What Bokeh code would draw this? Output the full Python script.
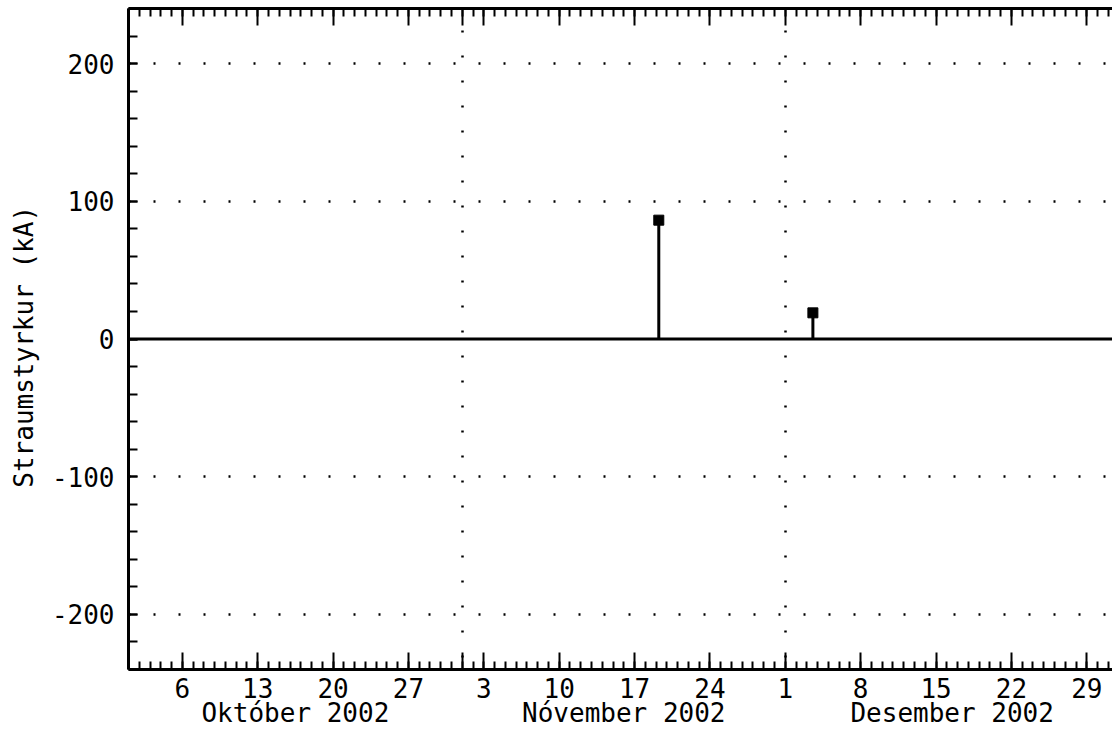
import pandas as pd
from bokeh.plotting import figure
from bokeh.models import LinearAxis, FixedTicker, Range1d, Span, Grid, ColumnDataSource
from bokeh.embed import file_html
from bokeh.resources import INLINE

# ---- data ----
strike_times = ["2002-11-19 06:00", "2002-12-03 13:30"]
peak_current_kA = [86.3, 19.0]

x_start = "2002-10-01 00:00"
x_end = "2002-12-31 09:20"
month_starts = ["2002-11-01", "2002-12-01"]
month_mids = ["2002-10-16 12:00", "2002-11-16 00:00", "2002-12-16 12:00"]
month_names = ["Október 2002", "Nóvember 2002", "Desember 2002"]
y_major = [-200, -100, 0, 100, 200]
y_minor = list(range(-240, 241, 20))
y_grid = [-200, -100, 100, 200]

FONT = "DejaVu Sans Mono"
FS = "26px"


def ms(s):
    return pd.Timestamp(s).value / 1e6


days = pd.date_range("2002-10-01", "2002-12-31", freq="D")
day_ms = [ms(d) for d in days]
sunday_ms = [ms(d) for d in days if d.dayofweek == 6]
month_ms = [ms(m) for m in month_starts]
major_x = sorted(set(sunday_ms + month_ms))

overrides = {m: "" for m in month_ms}
for d in days:
    if d.dayofweek == 6:
        overrides[ms(d)] = str(d.day)

src = ColumnDataSource(dict(t=[pd.Timestamp(s) for s in strike_times],
                            v=peak_current_kA,
                            z=[0] * len(strike_times)))

p = figure(width=1112, height=730,
           x_range=Range1d(pd.Timestamp(x_start), pd.Timestamp(x_end)),
           y_range=Range1d(-240, 240),
           x_axis_location=None, y_axis_location=None,
           output_backend="svg", toolbar_location=None,
           min_border_left=128, min_border_right=0,
           min_border_top=8, min_border_bottom=0)
p.outline_line_color = None
p.center = [r for r in p.center if not isinstance(r, Grid)]
p.background_fill_color = "white"
p.border_fill_color = "white"

# grids
p.add_layout(Grid(dimension=1, ticker=FixedTicker(ticks=y_grid),
                  grid_line_color="black", grid_line_width=2.5,
                  grid_line_dash="2 23", grid_line_dash_offset=-25))
p.add_layout(Grid(dimension=0, ticker=FixedTicker(ticks=month_ms),
                  grid_line_color="black", grid_line_width=2.5,
                  grid_line_dash="2 23", grid_line_dash_offset=-12))


def style(ax):
    ax.axis_line_width = 3
    ax.axis_line_color = "black"
    ax.major_tick_line_width = 2
    ax.minor_tick_line_width = 2
    ax.major_tick_line_color = "black"
    ax.minor_tick_line_color = "black"
    ax.major_tick_out = 0
    ax.minor_tick_out = 0
    ax.major_label_text_font = FONT
    ax.major_label_text_font_size = FS
    ax.major_label_text_color = "black"


# left axis
ly = LinearAxis(ticker=FixedTicker(ticks=y_major, minor_ticks=y_minor),
                axis_label="Straumstyrkur  (kA)",
                major_label_overrides={v: str(v) for v in y_major})
style(ly)
ly.major_tick_in = 9
ly.minor_tick_in = 9
ly.major_label_standoff = 14
ly.axis_label_text_font = FONT
ly.axis_label_text_font_size = FS
ly.axis_label_text_font_style = "normal"
ly.axis_label_text_color = "black"
ly.axis_label_standoff = 10
p.add_layout(ly, "left")

# bottom axis (days)
bx = LinearAxis(ticker=FixedTicker(ticks=major_x, minor_ticks=day_ms),
                major_label_overrides=overrides)
style(bx)
bx.major_tick_in = 17
bx.minor_tick_in = 8
bx.major_label_standoff = 8
p.add_layout(bx, "below")

# bottom axis (months)
mx = LinearAxis(ticker=FixedTicker(ticks=[ms(m) for m in month_mids], minor_ticks=[]),
                major_label_overrides={ms(m): n for m, n in zip(month_mids, month_names)})
style(mx)
mx.axis_line_color = None
mx.major_tick_line_color = None
mx.minor_tick_line_color = None
mx.major_tick_in = 0
mx.major_label_standoff = -3
p.add_layout(mx, "below")

# top axis (ticks only)
tx = LinearAxis(ticker=FixedTicker(ticks=major_x, minor_ticks=day_ms),
                major_label_overrides={t: "" for t in major_x})
style(tx)
tx.major_tick_in = 17
tx.minor_tick_in = 8
tx.major_label_standoff = -30
p.add_layout(tx, "above")

# zero line
p.add_layout(Span(location=0, dimension="width", line_color="black", line_width=3))

# stems and markers
p.segment(x0="t", y0="z", x1="t", y1="v", source=src, line_color="black", line_width=3)
p.scatter(x="t", y="v", source=src, marker="square", size=10,
          fill_color="black", line_color="black")

open("out.html", "w").write(file_html(p, INLINE))
